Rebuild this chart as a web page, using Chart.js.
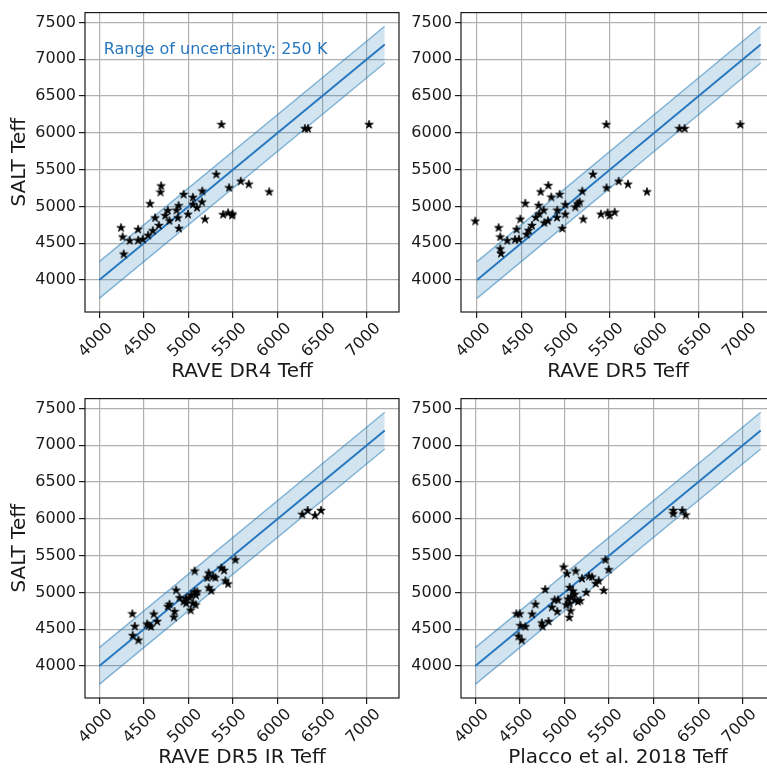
<!DOCTYPE html>
<html>
<head>
<meta charset="utf-8">
<title>SALT Teff comparison</title>
<script src="https://cdn.jsdelivr.net/npm/chart.js@4.4.1/dist/chart.umd.min.js"></script>
<style>
  html, body { margin: 0; padding: 0; background: #fff; }
  body { width: 767px; height: 770px; overflow: hidden; position: relative; }
  .panel { position: absolute; }
</style>
</head>
<body>
<div class="panel" style="left:0px;top:0px"><canvas id="dr4Chart" width="420" height="390"></canvas></div>
<div class="panel" style="left:376px;top:0px"><canvas id="dr5Chart" width="420" height="390"></canvas></div>
<div class="panel" style="left:0px;top:386px"><canvas id="irChart" width="420" height="390"></canvas></div>
<div class="panel" style="left:376px;top:386px"><canvas id="placcoChart" width="420" height="390"></canvas></div>
<script>
// tick labels
const xTicks = [4000, 4500, 5000, 5500, 6000, 6500, 7000];
const yTicks = [4000, 4500, 5000, 5500, 6000, 6500, 7000, 7500];

// one-to-one line and +/- 250 K band
const lineX = [4000, 7200];
const lineY = [4000, 7200];
const bandUpper = [4250, 7450];
const bandLower = [3750, 6950];

// RAVE DR4 vs SALT
const dr4X = [5370, 6305, 6340, 7025, 5312, 5455, 5586, 5676, 5905, 4694, 4686, 4570, 4945, 5050,
    5155, 5151, 5050, 5095, 4889, 4769, 4866, 4739, 4994, 4881, 4787, 4626, 4668, 4893, 5185,
    5388, 5444, 5493, 5490, 4600, 4548, 4435, 4435, 4488, 4341, 4244, 4262, 4274];
const dr4Y = [6120, 6065, 6065, 6120, 5443, 5260, 5350, 5310, 5205, 5286, 5201, 5044, 5170, 5130,
    5215, 5067, 5035, 4990, 5017, 4950, 4955, 4883, 4900, 4851, 4811, 4851, 4748, 4708, 4834,
    4896, 4919, 4905, 4885, 4677, 4614, 4695, 4547, 4560, 4542, 4717, 4592, 4359];

// RAVE DR5 vs SALT
const dr5X = [3981, 5459, 6282, 6342, 6970, 5308, 5462, 5598, 5703, 5917, 4805, 4718, 4838, 4932,
    4545, 4695, 5188, 5158, 5135, 5109, 4996, 4996, 4906, 4752, 4703, 4665, 4801, 4759, 4902,
    4489, 4620, 4583, 4560, 4447, 4429, 4474, 4342, 4244, 4263, 4263, 4271, 4962, 5199, 5398,
    5474, 5496, 5553];
const dr5Y = [4807, 6120, 6066, 6066, 6120, 5443, 5259, 5349, 5309, 5205, 5291, 5205, 5134, 5170,
    5049, 5022, 5214, 5067, 5044, 4999, 5031, 4901, 4955, 4955, 4905, 4856, 4811, 4784, 4856,
    4834, 4748, 4681, 4627, 4695, 4556, 4560, 4542, 4717, 4592, 4430, 4367, 4708, 4834, 4901,
    4919, 4883, 4928];

// RAVE DR5 IR vs SALT
const irX = [6276, 6336, 6419, 6486, 5526, 5069, 5226, 5211, 5276, 5301, 5369, 5399, 5414, 5444,
    5226, 5256, 4862, 5069, 5099, 5084, 5031, 4975, 4945, 4975, 5012, 4900, 5050, 5080, 5024,
    4787, 4769, 4844, 4836, 4611, 4649, 4555, 4581, 4371, 4398, 4375, 4439, 4536];
const irY = [6068, 6121, 6054, 6121, 5450, 5298, 5271, 5204, 5222, 5208, 5338, 5307, 5164, 5123,
    5070, 5029, 5038, 5016, 5016, 4971, 4971, 4926, 4882, 4859, 4935, 4935, 4859, 4837, 4765,
    4846, 4814, 4747, 4671, 4712, 4613, 4555, 4542, 4716, 4546, 4421, 4358, 4577];

// Placco et al. 2018 vs SALT
const placcoX = [6220, 6220, 6321, 6359, 5459, 5496, 4990, 5028, 5125, 5196, 5275, 5309, 5384, 5350,
    5440, 5245, 4784, 5058, 5095, 5114, 5076, 5039, 5114, 5151, 5178, 5058, 5020, 5069, 5054,
    4889, 4926, 4859, 4919, 4675, 4637, 4746, 4754, 4821, 4461, 4499, 4506, 4562, 4484, 4521];
const placcoY = [6121, 6077, 6121, 6059, 5450, 5316, 5352, 5262, 5298, 5195, 5226, 5217, 5164, 5128,
    5034, 5007, 5047, 5074, 5025, 4980, 4949, 4917, 4904, 4882, 4895, 4859, 4837, 4756, 4667,
    4904, 4904, 4806, 4747, 4846, 4712, 4591, 4546, 4613, 4716, 4716, 4555, 4542, 4412, 4358];

const FONT = 'DejaVu Sans';
const INK = '#1a1a1a';
const BLUE = '#2878c0';

// filled five-point star like matplotlib's '*' marker
function makeStar(size) {
    const c = document.createElement('canvas');
    c.width = size;
    c.height = size;
    const g = c.getContext('2d');
    const r = size / 2 - 0.5;
    const r2 = r * 0.382;
    g.beginPath();
    for (let i = 0; i < 10; i++) {
        const a = -Math.PI / 2 + i * Math.PI / 5;
        const rr = i % 2 ? r2 : r;
        const px = size / 2 + rr * Math.cos(a);
        const py = size / 2 + 0.6 + rr * Math.sin(a);
        if (i === 0) g.moveTo(px, py); else g.lineTo(px, py);
    }
    g.closePath();
    g.fillStyle = '#000';
    g.fill();
    g.lineWidth = 0.7;
    g.strokeStyle = '#000';
    g.stroke();
    return c;
}
const star = makeStar(10);

const framePlugin = {
    id: 'frame',
    afterDatasetsDraw(chart) {
        const a = chart.chartArea;
        const ctx = chart.ctx;
        ctx.save();
        ctx.strokeStyle = INK;
        ctx.lineWidth = 1.2;
        ctx.strokeRect(a.left, a.top, a.right - a.left, a.bottom - a.top);
        ctx.restore();
    }
};

const notePlugin = {
    id: 'note',
    afterDatasetsDraw(chart, args, opts) {
        if (!opts.text) return;
        const ctx = chart.ctx;
        ctx.save();
        ctx.font = '16px "' + FONT + '"';
        ctx.fillStyle = BLUE;
        ctx.textAlign = 'left';
        ctx.textBaseline = 'middle';
        ctx.fillText(opts.text, chart.scales.x.getPixelForValue(opts.x), chart.scales.y.getPixelForValue(opts.y));
        ctx.restore();
    }
};

function toPoints(xs, ys) {
    return xs.map((x, i) => ({ x: x, y: ys[i] }));
}

function makeChart(id, xs, ys, xLabel, showYLabel, note) {
    // matplotlib style 5% margins around everything plotted
    const allX = xs.concat(lineX);
    const allY = ys.concat(bandUpper, bandLower);
    const xMin = Math.min(...allX), xMax = Math.max(...allX);
    const yMin = Math.min(...allY), yMax = Math.max(...allY);
    const xPad = (xMax - xMin) * 0.05;
    const yPad = (yMax - yMin) * 0.05;

    return new Chart(document.getElementById(id), {
        type: 'scatter',
        data: {
            datasets: [
                {
                    data: toPoints(xs, ys),
                    pointStyle: star,
                    pointRadius: 4,
                    order: 0
                },
                {
                    type: 'line',
                    data: toPoints(lineX, lineY),
                    borderColor: BLUE,
                    borderWidth: 2,
                    pointRadius: 0,
                    fill: false,
                    order: 1
                },
                {
                    type: 'line',
                    data: toPoints(lineX, bandUpper),
                    borderColor: 'rgba(31,119,180,0.5)',
                    backgroundColor: 'rgba(31,119,180,0.2)',
                    borderWidth: 1.5,
                    pointRadius: 0,
                    fill: '+1',
                    order: 2
                },
                {
                    type: 'line',
                    data: toPoints(lineX, bandLower),
                    borderColor: 'rgba(31,119,180,0.5)',
                    borderWidth: 1.5,
                    pointRadius: 0,
                    fill: false,
                    order: 2
                }
            ]
        },
        options: {
            responsive: false,
            animation: false,
            layout: { padding: { top: 9, right: 21, left: 0, bottom: 0 } },
            plugins: {
                legend: { display: false },
                tooltip: { enabled: false },
                note: note || {}
            },
            scales: {
                x: {
                    type: 'linear',
                    min: xMin - xPad,
                    max: xMax + xPad,
                    afterBuildTicks: s => { s.ticks = xTicks.map(v => ({ value: v })); },
                    afterFit: s => { s.height = 78; },
                    border: { display: false },
                    grid: { color: '#b0b0b0', lineWidth: 1.2, tickColor: INK, tickWidth: 1.2, tickLength: 6 },
                    ticks: {
                        autoSkip: false,
                        minRotation: 45,
                        maxRotation: 45,
                        labelOffset: 11,
                        padding: 1,
                        color: INK,
                        font: { family: FONT, size: 16 },
                        callback: v => String(v)
                    },
                    title: {
                        display: true,
                        text: xLabel,
                        color: INK,
                        font: { family: FONT, size: 20 },
                        padding: { top: 0, bottom: 6 }
                    }
                },
                y: {
                    type: 'linear',
                    min: yMin - yPad,
                    max: yMax + yPad,
                    afterBuildTicks: s => { s.ticks = yTicks.map(v => ({ value: v })); },
                    afterFit: s => { s.width = 85; },
                    border: { display: false },
                    grid: { color: '#b0b0b0', lineWidth: 1.2, tickColor: INK, tickWidth: 1.2, tickLength: 6 },
                    ticks: {
                        padding: 3,
                        color: INK,
                        font: { family: FONT, size: 16 },
                        callback: v => String(v)
                    },
                    title: {
                        display: showYLabel,
                        text: 'SALT Teff',
                        color: INK,
                        font: { family: FONT, size: 20 },
                        padding: { top: 8, bottom: 0 }
                    }
                }
            }
        },
        plugins: [framePlugin, notePlugin]
    });
}

makeChart('dr4Chart', dr4X, dr4Y, 'RAVE DR4 Teff', true,
    { text: 'Range of uncertainty: 250 K', x: 4050, y: 7127 });
makeChart('dr5Chart', dr5X, dr5Y, 'RAVE DR5 Teff', false);
makeChart('irChart', irX, irY, 'RAVE DR5 IR Teff', true);
makeChart('placcoChart', placcoX, placcoY, 'Placco et al. 2018 Teff', false);
</script>
</body>
</html>
